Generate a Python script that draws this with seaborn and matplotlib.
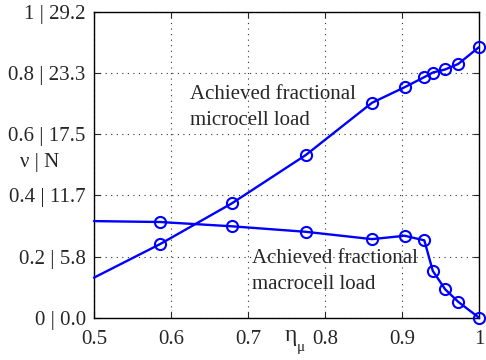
import matplotlib
matplotlib.use("Agg")
import matplotlib.pyplot as plt
import seaborn as sns
import pandas as pd

eta = [0.5, 0.586, 0.679, 0.775, 0.861, 0.9035, 0.929, 0.940, 0.956, 0.973, 1.0]
micro = [0.131, 0.241, 0.374, 0.532, 0.703, 0.754, 0.787, 0.802, 0.812, 0.830, 0.885]
macro = [0.316, 0.313, 0.299, 0.281, 0.257, 0.268, 0.253, 0.153, 0.093, 0.052, 0.0]
yticks = [0, 0.2, 0.4, 0.6, 0.8, 1.0]
ytick_labels = ["0 | 0.0", "0.2 | 5.8", "0.4 | 11.7", "0.6 | 17.5", "0.8 | 23.3", "1 | 29.2"]
xticks = [0.5, 0.6, 0.7, 0.8, 0.9, 1.0]
xtick_labels = ["0.5", "0.6", "0.7", "0.8", "0.9", "1"]

sns.set_style("ticks")
plt.rcParams['font.family'] = ['Liberation Serif', 'DejaVu Serif']

fig = plt.figure(figsize=(4.86, 3.6), dpi=100)
ax = fig.add_axes([0.1934, 0.1175, 0.7922, 0.8492])

df_mi = pd.DataFrame({"eta": eta, "v": micro})
df_ma = pd.DataFrame({"eta": eta, "v": macro})
for df in (df_mi, df_ma):
    sns.lineplot(data=df, x="eta", y="v", ax=ax, color="#0000ff", linewidth=1.7,
                 marker="o", markersize=8, markerfacecolor="none",
                 markeredgecolor="#0000ff", markeredgewidth=1.5, sort=False,
                 markevery=list(range(1, len(df))), clip_on=False, zorder=3)

ax.set_xlim(0.5, 1.0)
ax.set_ylim(0, 1.0)
ax.set_xticks(xticks)
ax.set_xticklabels(xtick_labels)
ax.set_yticks(yticks)
ax.set_yticklabels(ytick_labels)
ax.tick_params(direction="in", labelsize=15, length=4, top=True, right=True)
ax.tick_params(axis="x", pad=9)
ax.tick_params(axis="y", pad=6)
for s in ax.spines.values():
    s.set_visible(True)
    s.set_linewidth(1.0)
    s.set_color("black")
ax.grid(True, linestyle=(0, (1, 4)), color="#333333", linewidth=0.8)
ax.set_xlabel("")
ax.set_ylabel("")

fig.text(40 / 486, 1 - 163 / 360, "ν | N", fontsize=15, ha="center", va="center")
fig.text(291 / 486, 1 - 336 / 360, "η", fontsize=17, ha="center", va="center")
fig.text(301 / 486, 1 - 348 / 360, "μ", fontsize=11, ha="center", va="center")

ax.text(0.6247, 0.689, "Achieved fractional\nmicrocell load", fontsize=15,
        ha="left", va="center", linespacing=1.5)
ax.text(0.705, 0.151, "Achieved fractional\nmacrocell load", fontsize=15,
        ha="left", va="center", linespacing=1.5)

fig.savefig("out.png", dpi=100)
